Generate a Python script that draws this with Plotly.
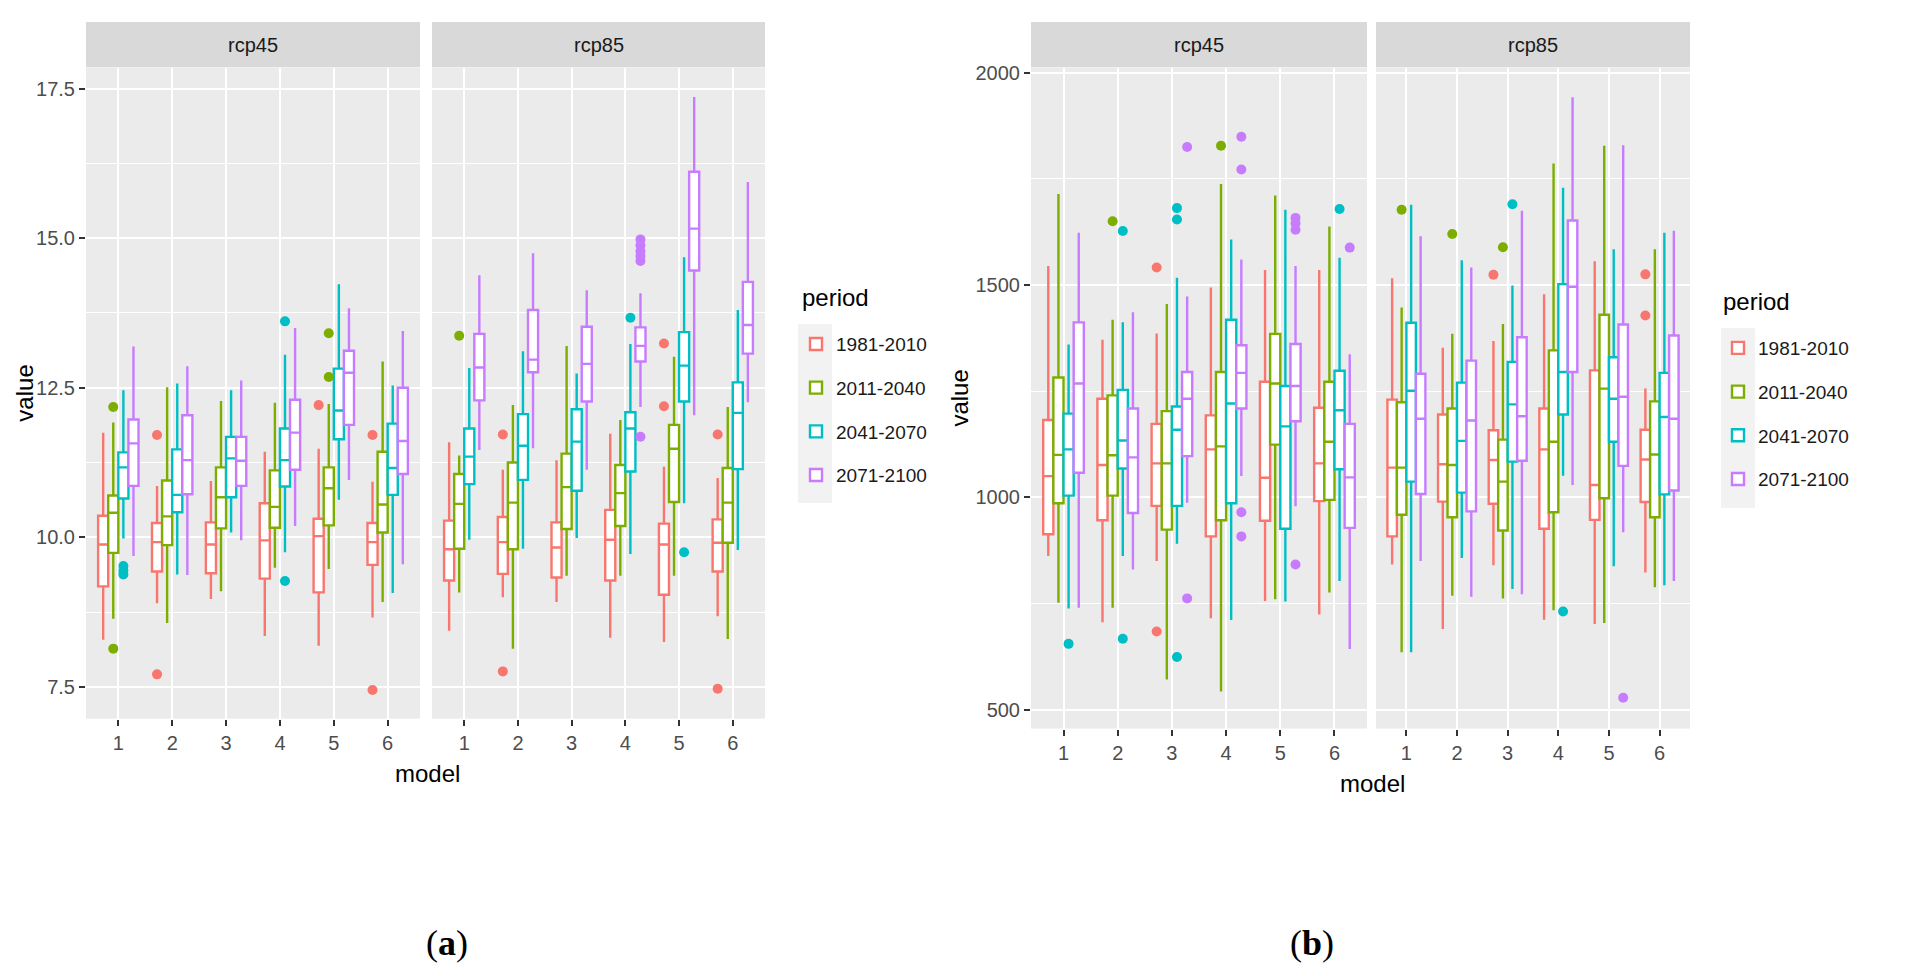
import plotly.graph_objects as go

MODELS = [1, 2, 3, 4, 5, 6]
PERIODS = ["1981-2010", "2011-2040", "2041-2070", "2071-2100"]
COLORS = ["#F8766D", "#7CAE00", "#00BFC4", "#C77CFF"]
X_TICKS = ["1", "2", "3", "4", "5", "6"]
Y_TICKS_A = [7.5, 10.0, 12.5, 15.0, 17.5]
Y_TICKS_B = [500, 1000, 1500, 2000]

# each row: (lower whisker, q1, median, q3, upper whisker) for models 1..6
# panel (a), rcp45
A45_1981 = [(8.29, 9.18, 9.88, 10.36, 11.75), (8.90, 9.43, 9.92, 10.24, 10.86), (8.97, 9.40, 9.88, 10.25, 10.94),
            (8.35, 9.31, 9.95, 10.57, 11.43), (8.19, 9.08, 10.02, 10.31, 11.48), (8.66, 9.54, 9.92, 10.24, 10.93)]
A45_2011 = [(8.64, 9.74, 10.41, 10.70, 11.92), (8.57, 9.87, 10.35, 10.95, 12.51), (9.10, 10.15, 10.67, 11.17, 12.28),
            (9.49, 10.16, 10.51, 11.12, 12.25), (9.47, 10.20, 10.82, 11.17, 12.23), (8.92, 10.08, 10.55, 11.43, 12.94)]
A45_2041 = [(9.98, 10.65, 11.17, 11.42, 12.46), (9.38, 10.42, 10.71, 11.47, 12.57), (10.08, 10.67, 11.32, 11.68, 12.46),
            (9.75, 10.85, 11.29, 11.82, 13.05), (10.63, 11.64, 12.12, 12.82, 14.23), (9.07, 10.71, 11.16, 11.90, 12.54)]
A45_2071 = [(9.69, 10.86, 11.57, 11.97, 13.19), (9.37, 10.72, 11.29, 12.04, 12.86), (9.95, 10.86, 11.28, 11.68, 12.62),
            (10.19, 11.13, 11.75, 12.30, 13.50), (10.96, 11.88, 12.75, 13.12, 13.83), (9.55, 11.06, 11.61, 12.50, 13.45)]
# panel (a), rcp85
A85_1981 = [(8.44, 9.28, 9.80, 10.28, 11.59), (9.00, 9.39, 9.92, 10.34, 11.13), (8.92, 9.33, 9.83, 10.25, 11.29),
            (8.32, 9.28, 9.96, 10.46, 11.73), (8.25, 9.04, 9.88, 10.23, 11.18), (8.68, 9.43, 9.91, 10.30, 10.99)]
A85_2011 = [(9.08, 9.81, 10.56, 11.06, 11.37), (8.14, 9.80, 10.58, 11.25, 12.21), (9.36, 10.14, 10.84, 11.40, 13.20),
            (9.36, 10.19, 10.74, 11.21, 11.96), (9.36, 10.59, 11.48, 11.88, 13.02), (8.30, 9.91, 10.58, 11.16, 12.18)]
A85_2041 = [(9.96, 10.89, 11.35, 11.82, 12.83), (9.81, 10.96, 11.53, 12.06, 13.11), (9.99, 10.78, 11.60, 12.14, 12.74),
            (9.72, 11.10, 11.82, 12.09, 13.23), (10.57, 12.27, 12.87, 13.43, 14.68), (9.79, 11.14, 12.08, 12.59, 13.80)]
A85_2071 = [(11.46, 12.29, 12.84, 13.40, 14.38), (11.49, 12.76, 12.97, 13.80, 14.75), (11.13, 12.27, 12.90, 13.52, 14.13),
            (12.18, 12.94, 13.20, 13.51, 14.08), (12.04, 14.46, 15.16, 16.11, 17.36), (12.26, 13.07, 13.55, 14.27, 15.94)]
# panel (b), rcp45
B45_1981 = [(862, 913, 1050, 1182, 1545), (706, 946, 1076, 1232, 1371), (850, 980, 1080, 1173, 1386),
            (715, 908, 1113, 1193, 1494), (756, 945, 1046, 1272, 1535), (724, 991, 1080, 1211, 1535)]
B45_2011 = [(752, 986, 1100, 1282, 1714), (740, 1004, 1099, 1240, 1418), (571, 924, 1080, 1203, 1455),
            (543, 946, 1120, 1295, 1738), (760, 1124, 1268, 1385, 1711), (776, 994, 1131, 1272, 1638)]
B45_2041 = [(738, 1004, 1113, 1197, 1360), (862, 1068, 1134, 1253, 1412), (891, 980, 1159, 1214, 1517),
            (711, 986, 1221, 1418, 1607), (755, 926, 1167, 1262, 1677), (803, 1066, 1205, 1298, 1564)]
B45_2071 = [(740, 1058, 1268, 1412, 1623), (830, 963, 1094, 1209, 1436), (987, 1097, 1232, 1295, 1473),
            (1050, 1209, 1293, 1358, 1560), (979, 1179, 1262, 1361, 1545), (643, 928, 1047, 1173, 1337)]
# panel (b), rcp85
B85_1981 = [(842, 908, 1070, 1230, 1516), (690, 990, 1078, 1195, 1352), (840, 985, 1088, 1158, 1368),
            (712, 926, 1113, 1209, 1478), (702, 947, 1029, 1299, 1556), (823, 989, 1089, 1159, 1256)]
B85_2011 = [(635, 959, 1070, 1224, 1447), (768, 953, 1076, 1209, 1385), (762, 922, 1037, 1136, 1408),
            (734, 965, 1131, 1346, 1786), (704, 998, 1256, 1430, 1828), (788, 953, 1101, 1226, 1584)]
B85_2041 = [(635, 1037, 1251, 1411, 1689), (857, 1011, 1133, 1270, 1558), (784, 1084, 1219, 1319, 1499),
            (1051, 1195, 1295, 1502, 1729), (838, 1131, 1232, 1330, 1584), (793, 1007, 1189, 1293, 1623)]
B85_2071 = [(850, 1008, 1185, 1291, 1615), (766, 967, 1181, 1322, 1541), (772, 1086, 1191, 1377, 1675),
            (1029, 1295, 1496, 1652, 1942), (918, 1074, 1237, 1407, 1829), (803, 1016, 1185, 1381, 1628)]

# outliers: (period index, model, value)
OUT_A45 = [(0, 2, 11.71), (0, 2, 7.71), (0, 5, 12.21), (0, 6, 11.71), (0, 6, 7.45),
           (1, 1, 12.18), (1, 1, 8.14), (1, 5, 12.68), (1, 5, 13.41),
           (2, 1, 9.52), (2, 1, 9.44), (2, 1, 9.38), (2, 4, 13.61), (2, 4, 9.27)]
OUT_A85 = [(0, 2, 11.72), (0, 2, 7.76), (0, 5, 12.19), (0, 5, 13.24), (0, 6, 11.72), (0, 6, 7.47),
           (1, 1, 13.37),
           (2, 4, 13.67), (2, 5, 9.75),
           (3, 4, 14.98), (3, 4, 14.88), (3, 4, 14.78), (3, 4, 14.70), (3, 4, 14.62), (3, 4, 11.68)]
OUT_B45 = [(0, 3, 1541), (0, 3, 684),
           (1, 2, 1650), (1, 4, 1828),
           (2, 1, 655), (2, 2, 1627), (2, 2, 667), (2, 3, 1681), (2, 3, 1654), (2, 3, 624), (2, 6, 1679),
           (3, 3, 1825), (3, 3, 762), (3, 4, 1849), (3, 4, 1772), (3, 4, 965), (3, 4, 908),
           (3, 5, 1658), (3, 5, 1645), (3, 5, 1630), (3, 5, 842), (3, 6, 1588)]
OUT_B85 = [(0, 3, 1524), (0, 6, 1525), (0, 6, 1428),
           (1, 1, 1677), (1, 2, 1620), (1, 3, 1589),
           (2, 3, 1690), (2, 4, 731),
           (3, 5, 528)]

W = 1910
H = 976
PAGE_OFF = 8  # default body margin of the html page
DODGE = 0.75
BOXW = DODGE / len(PERIODS)
OFFS = [(i - (len(PERIODS) - 1) / 2) * BOXW for i in range(len(PERIODS))]

FONT = "Liberation Sans"
TICK_FONT = dict(family=FONT, size=20, color="#4d4d4d")

PANELS = [
    # stats, outliers, xaxis, yaxis, legend name, show legend, x-pixels, y-pixels, strip
    ([A45_1981, A45_2011, A45_2041, A45_2071], OUT_A45, "x", "y", "legend", True, (86, 420), (62, 717), "rcp45"),
    ([A85_1981, A85_2011, A85_2041, A85_2071], OUT_A85, "x2", "y2", "legend", False, (432, 765), (62, 717), "rcp85"),
    ([B45_1981, B45_2011, B45_2041, B45_2071], OUT_B45, "x3", "y3", "legend2", True, (1031, 1367), (62, 727), "rcp45"),
    ([B85_1981, B85_2011, B85_2041, B85_2071], OUT_B85, "x4", "y4", "legend2", False, (1376, 1690), (62, 727), "rcp85"),
]

fig = go.Figure()

for stats, outs, xa, ya, leg, showleg, _, _, _ in PANELS:
    for pi, period in enumerate(PERIODS):
        rows = stats[pi]
        fig.add_trace(go.Box(
            x=[m + OFFS[pi] for m in MODELS],
            lowerfence=[r[0] for r in rows],
            q1=[r[1] for r in rows],
            median=[r[2] for r in rows],
            q3=[r[3] for r in rows],
            upperfence=[r[4] for r in rows],
            width=BOXW,
            whiskerwidth=0,
            fillcolor="white",
            line=dict(color=COLORS[pi], width=2.4),
            boxpoints=False,
            name=period,
            legendgroup=leg + period,
            legend=leg,
            showlegend=showleg,
            xaxis=xa, yaxis=ya,
            hoverinfo="skip",
        ))
        pts = [(m, v) for (p, m, v) in outs if p == pi]
        if pts:
            fig.add_trace(go.Scatter(
                x=[m + OFFS[pi] for m, v in pts],
                y=[v for m, v in pts],
                mode="markers",
                marker=dict(color=COLORS[pi], size=10),
                showlegend=False,
                xaxis=xa, yaxis=ya,
                hoverinfo="skip",
            ))


def px_x(v):
    return (v - PAGE_OFF) / W


def px_y(v):
    return 1 - (v - PAGE_OFF) / H


axis_common = dict(
    showgrid=True, gridcolor="white", gridwidth=2, zeroline=False,
    ticks="outside", ticklen=6, tickwidth=2, tickcolor="#333333",
    tickfont=TICK_FONT, showline=False,
)

layout = dict(
    width=W, height=H, autosize=False,
    margin=dict(l=0, r=0, t=0, b=0),
    paper_bgcolor="white", plot_bgcolor="#ebebeb",
    boxmode="overlay",
    font=dict(family=FONT, color="#1a1a1a"),
)

shapes = []
annotations = []
for k, (stats, outs, xa, ya, leg, showleg, xp, yp, strip) in enumerate(PANELS):
    xn = "xaxis" + ("" if k == 0 else str(k + 1))
    yn = "yaxis" + ("" if k == 0 else str(k + 1))
    layout[xn] = dict(axis_common, domain=[px_x(xp[0]), px_x(xp[1])], range=[0.4, 6.6],
                      tickmode="array", tickvals=MODELS, ticktext=X_TICKS, anchor=ya)
    is_a = k < 2
    yt = Y_TICKS_A if is_a else Y_TICKS_B
    minor_step = (yt[1] - yt[0]) / 2
    ycfg = dict(axis_common, domain=[px_y(yp[1]), px_y(yp[0])], anchor=xa,
                tickmode="array", tickvals=yt,
                ticktext=[("%.1f" % t) if is_a else ("%d" % t) for t in yt],
                minor=dict(tickmode="linear", tick0=yt[0] - minor_step, dtick=2 * minor_step,
                           showgrid=True, gridcolor="white", gridwidth=1, ticks=""))
    ycfg["range"] = [6.97, 17.85] if is_a else [455.5, 2011.7]
    if k in (1, 3):
        ycfg["showticklabels"] = False
        ycfg["ticks"] = ""
        ycfg["matches"] = "y" if k == 1 else "y3"
    layout[yn] = ycfg
    # facet strip
    shapes.append(dict(type="rect", xref="paper", yref="paper",
                       x0=px_x(xp[0]), x1=px_x(xp[1]), y0=px_y(61.5), y1=px_y(16),
                       fillcolor="#d9d9d9", line=dict(width=0), layer="below"))
    annotations.append(dict(xref="paper", yref="paper", x=px_x((xp[0] + xp[1]) / 2), y=px_y(39),
                            text=strip, showarrow=False, xanchor="center", yanchor="middle",
                            font=dict(family=FONT, size=20, color="#1a1a1a")))

# legend key backgrounds
for x0, y0, y1 in [(798, 320, 500), (1721, 324, 505)]:
    shapes.append(dict(type="rect", xref="paper", yref="paper",
                       x0=px_x(x0), x1=px_x(x0 + 34), y0=px_y(y1), y1=px_y(y0),
                       fillcolor="#f2f2f2", line=dict(width=0), layer="below"))

# axis titles and legend titles
for x, y, t, ang, anc in [(25, 390, "value", -90, "center"), (427, 772, "model", 0, "center"),
                          (960, 395, "value", -90, "center"), (1372, 782, "model", 0, "center"),
                          (800, 293, "period", 0, "left"), (1721, 297, "period", 0, "left")]:
    annotations.append(dict(xref="paper", yref="paper", x=px_x(x), y=px_y(y), text=t,
                            textangle=ang, showarrow=False, xanchor=anc, yanchor="middle",
                            font=dict(family=FONT, size=24, color="black")))

# sub-figure labels
for x, t in [(447, "(<b>a</b>)"), (1312, "(<b>b</b>)")]:
    annotations.append(dict(xref="paper", yref="paper", x=px_x(x), y=px_y(943), text=t,
                            showarrow=False, xanchor="center", yanchor="middle",
                            font=dict(family="Liberation Serif", size=36, color="black")))

leg_common = dict(xanchor="left", yanchor="top", bgcolor="rgba(0,0,0,0)",
                  font=dict(family=FONT, size=19, color="#1a1a1a"),
                  tracegroupgap=16, traceorder="grouped")
layout["legend"] = dict(leg_common, x=px_x(796), y=px_y(321))
layout["legend2"] = dict(leg_common, x=px_x(1718), y=px_y(325))
layout["shapes"] = shapes
layout["annotations"] = annotations

fig.update_layout(**layout)
fig.write_html("out.html")
